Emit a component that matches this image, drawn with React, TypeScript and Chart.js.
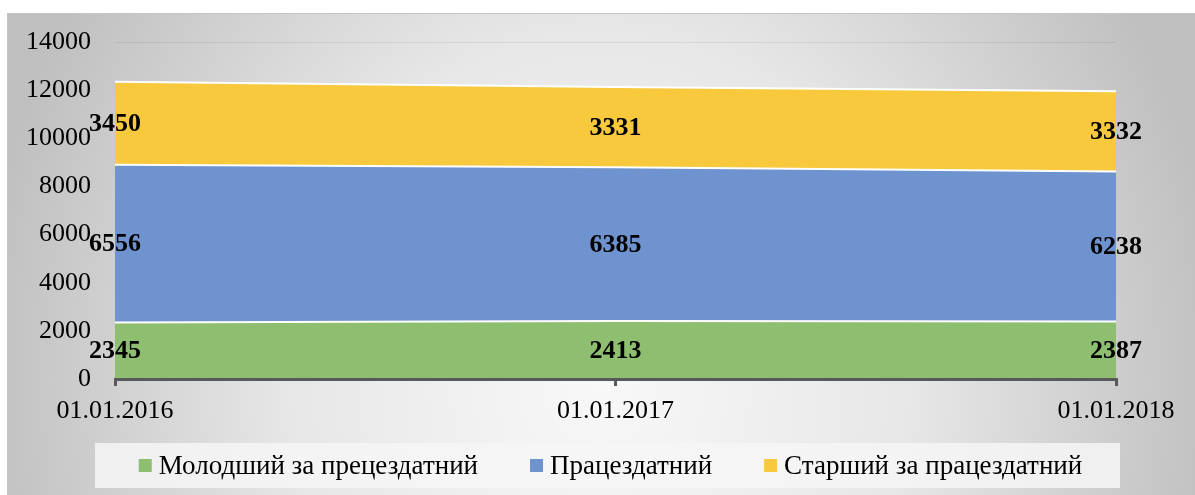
import React, { useEffect, useRef } from "react";
import { Chart, registerables } from "chart.js";

Chart.register(...registerables);

const categories = ["01.01.2016", "01.01.2017", "01.01.2018"];
const seriesNames = ["Молодший за прецездатний", "Працездатний", "Старший за працездатний"];
const youngValues = [2345, 2413, 2387];
const workingValues = [6556, 6385, 6238];
const olderValues = [3450, 3331, 3332];
const seriesColors = ["#8ebe6f", "#6f93cf", "#f9c93d"];
const yTicks = [0, 2000, 4000, 6000, 8000, 10000, 12000, 14000];

const W = 1195;
const H = 495;
const FONT = "'Liberation Serif', 'Times New Roman', serif";

const backgroundPlugin = {
  id: "bgPlugin",
  beforeDraw(chart: any) {
    const ctx = chart.ctx;
    ctx.save();
    ctx.fillStyle = "#ffffff";
    ctx.fillRect(0, 0, W, H);
    const fx = 7, fy = 13;
    ctx.beginPath();
    ctx.rect(fx, fy, W - fx, H - fy);
    ctx.clip();
    ctx.translate(600, 380);
    ctx.scale(620 / 700, 1);
    const g = ctx.createRadialGradient(0, 0, 0, 0, 0, 700);
    g.addColorStop(0, "#f8f8f8");
    g.addColorStop(0.5, "#e7e7e7");
    g.addColorStop(1, "#c0c0c0");
    ctx.fillStyle = g;
    ctx.fillRect(-1000, -1000, 2400, 2400);
    ctx.restore();
    ctx.save();
    ctx.strokeStyle = "#c4c4c4";
    ctx.lineWidth = 1;
    ctx.beginPath();
    ctx.moveTo(fx + 0.5, H);
    ctx.lineTo(fx + 0.5, fy + 0.5);
    ctx.lineTo(W, fy + 0.5);
    ctx.stroke();
    ctx.restore();
  },
};

const labelsPlugin = {
  id: "valueLabels",
  afterDatasetsDraw(chart: any) {
    const ctx = chart.ctx;
    const yScale = chart.scales.y;
    ctx.save();
    ctx.font = `bold 26px ${FONT}`;
    ctx.fillStyle = "#000";
    ctx.textAlign = "center";
    ctx.textBaseline = "middle";
    const cum = categories.map(() => 0);
    chart.data.datasets.forEach((ds: any, di: number) => {
      const meta = chart.getDatasetMeta(di);
      ds.data.forEach((v: number, i: number) => {
        const x = meta.data[i].x;
        const mid = cum[i] + v / 2;
        cum[i] += v;
        ctx.fillText(String(v), x, yScale.getPixelForValue(mid) + 1);
      });
    });
    ctx.restore();
  },
};

const legendPlugin = {
  id: "customLegend",
  afterDraw(chart: any) {
    const ctx = chart.ctx;
    ctx.save();
    const bx = 95, by = 443, bw = 1025, bh = 45;
    ctx.fillStyle = "rgba(246,246,246,0.85)";
    ctx.fillRect(bx, by, bw, bh);
    ctx.font = `27px ${FONT}`;
    const marker = 13, mgap = 7, itemGap = 52;
    const widths = seriesNames.map((n) => ctx.measureText(n).width);
    const total = widths.reduce((a, w) => a + marker + mgap + w, 0) + itemGap * (seriesNames.length - 1);
    let x = bx + bw / 2 - total / 2 + 3;
    const cy = by + bh / 2;
    ctx.textBaseline = "middle";
    ctx.textAlign = "left";
    seriesNames.forEach((n, i) => {
      ctx.fillStyle = seriesColors[i];
      ctx.fillRect(x, cy - marker / 2, marker, marker);
      x += marker + mgap;
      ctx.fillStyle = "#000";
      ctx.fillText(n, x, cy + 1);
      x += widths[i] + itemGap;
    });
    ctx.restore();
  },
};

export default function App() {
  const ref = useRef<HTMLCanvasElement>(null);
  useEffect(() => {
    const canvas = ref.current;
    if (!canvas) return;
    const values = [youngValues, workingValues, olderValues];
    const chart = new Chart(canvas, {
      type: "line",
      data: {
        labels: categories,
        datasets: values.map((d, i) => ({
          label: seriesNames[i],
          data: d,
          backgroundColor: seriesColors[i],
          borderColor: "#ffffff",
          borderWidth: 2,
          fill: i === 0 ? "origin" : "-1",
          pointRadius: 0,
          tension: 0,
        })),
      },
      options: {
        animation: false,
        responsive: false,
        devicePixelRatio: 1,
        layout: { padding: { top: 42, right: 79, left: 0, bottom: 0 } },
        plugins: { legend: { display: false }, tooltip: { enabled: false } },
        scales: {
          x: {
            type: "category",
            offset: false,
            afterFit: (s: any) => { s.height = 116; },
            grid: {
              display: true,
              drawOnChartArea: false,
              drawTicks: true,
              tickLength: 7,
              color: "#595959",
              lineWidth: 3,
            },
            border: { display: true, color: "#595959", width: 3, z: 2 },
            ticks: {
              color: "#000",
              font: { family: FONT, size: 26 },
              padding: 10,
              maxRotation: 0,
              autoSkip: false,
            },
          },
          y: {
            stacked: true,
            min: 0,
            max: 14000,
            z: 1,
            afterFit: (s: any) => { s.width = 115; },
            afterBuildTicks: (s: any) => { s.ticks = yTicks.map((v) => ({ value: v })); },
            grid: { color: "rgba(0,0,0,0.07)", lineWidth: 1, drawTicks: false },
            border: { display: false },
            ticks: {
              color: "#000",
              font: { family: FONT, size: 26 },
              padding: 24,
              callback: (v: any) => String(v),
            },
          },
        },
      },
      plugins: [backgroundPlugin, labelsPlugin, legendPlugin],
    } as any);
    return () => chart.destroy();
  }, []);
  return (
    <div style={{ position: "absolute", left: 0, top: 0, width: W, height: H }}>
      <canvas ref={ref} width={W} height={H} style={{ display: "block", width: W, height: H }} />
    </div>
  );
}
